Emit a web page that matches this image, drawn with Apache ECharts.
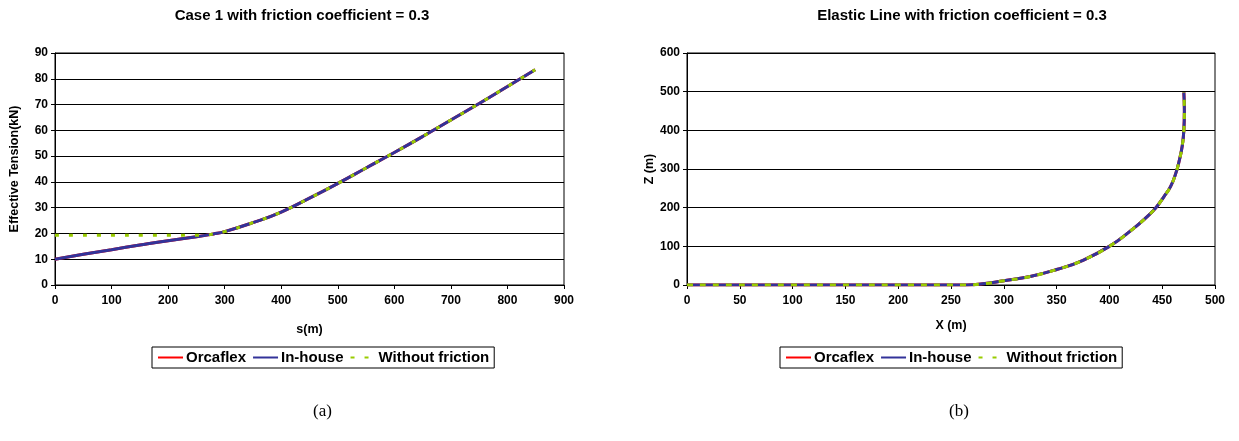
<!DOCTYPE html>
<html>
<head>
<meta charset="utf-8">
<script src="https://cdn.jsdelivr.net/npm/echarts@6/dist/echarts.min.js"></script>
<style>
  html, body { margin: 0; padding: 0; background: #fff; }
  #chart { width: 1239px; height: 441px; }
</style>
</head>
<body>
<div id="chart"></div>
<script>
// (a) tension along the line, s(m) vs kN
var sInHouse = [0, 50, 100, 150, 200, 250, 280, 300, 350, 400, 450, 500, 550, 600, 650, 700, 750, 800, 849];
var tInHouse = [10, 11.9, 13.7, 15.5, 17.2, 18.7, 19.8, 20.7, 24.2, 28.3, 33.7, 39.4, 45.4, 51.4, 57.6, 64.0, 70.4, 77.0, 83.5];
var sNoFric = [0, 265, 280, 300, 350, 400, 450, 500, 550, 600, 650, 700, 750, 800, 849];
var tNoFric = [19.3, 19.3, 19.8, 20.7, 24.2, 28.3, 33.7, 39.4, 45.4, 51.4, 57.6, 64.0, 70.4, 77.0, 83.5];

// (b) elastic line shape, X(m) vs Z(m)
var xLine = [0, 265, 280, 300, 325, 350, 375, 400, 420, 435, 444, 452, 458, 463, 466, 469, 470.5, 471, 470.5];
var zLine = [0, 0, 3, 11, 22, 40, 64, 100, 140, 175, 200, 230, 255, 290, 320, 360, 400, 450, 498];

var names = ["Orcaflex", "In-house", "Without friction"];

function pairs(xs, ys) {
  var out = [];
  for (var i = 0; i < xs.length; i++) out.push([xs[i], ys[i]]);
  return out;
}

var font = "Arial, 'Liberation Sans', sans-serif";
var black = "#000";

function xAx(idx, max, interval, name, gap) {
  return {
    gridIndex: idx, type: 'value', min: 0, max: max, interval: interval,
    name: name, nameLocation: 'middle', nameGap: gap,
    nameTextStyle: { fontFamily: font, fontWeight: 'bold', fontSize: 12.5, color: black },
    axisLine: { show: true, lineStyle: { color: black, width: 1 } },
    axisTick: { show: true, inside: false, length: 4, lineStyle: { color: black } },
    axisLabel: { fontFamily: font, fontWeight: 'bold', fontSize: 12, color: black, margin: 10 },
    splitLine: { show: false }
  };
}

function yAx(idx, max, interval, name, gap) {
  return {
    gridIndex: idx, type: 'value', min: 0, max: max, interval: interval,
    name: name, nameLocation: 'middle', nameGap: gap, nameRotate: 90,
    nameTextStyle: { fontFamily: font, fontWeight: 'bold', fontSize: 12.5, color: black },
    axisLine: { show: true, lineStyle: { color: black, width: 1 } },
    axisTick: { show: true, inside: false, length: 4, lineStyle: { color: black } },
    axisLabel: { fontFamily: font, fontWeight: 'bold', fontSize: 12, color: black, margin: 7 },
    splitLine: { show: true, lineStyle: { color: black, width: 1 } }
  };
}

function legendAt(left) {
  return {
    left: left, top: 347, orient: 'horizontal',
    data: names, itemWidth: 25, itemHeight: 14, itemGap: 6,
    padding: [3, 5], borderColor: black, borderWidth: 1,
    itemStyle: { opacity: 0 },
    textStyle: { fontFamily: font, fontWeight: 'bold', fontSize: 15, color: black, padding: [0, 0, 0, -2] }
  };
}

function lineSeries(name, idx, data, color, width, type) {
  return {
    name: name, type: 'line', xAxisIndex: idx, yAxisIndex: idx,
    data: data, symbol: 'none', smooth: true, smoothMonotone: 'none',
    lineStyle: { color: color, width: width, type: type },
    itemStyle: { color: color },
    z: 2
  };
}

var chart = echarts.init(document.getElementById('chart'));
chart.setOption({
  animation: false,
  backgroundColor: '#fff',
  title: [
    { text: 'Case 1 with friction coefficient = 0.3', left: 297, top: 3, textAlign: 'center',
      textStyle: { fontFamily: font, fontWeight: 'bold', fontSize: 15, color: black } },
    { text: 'Elastic Line with friction coefficient = 0.3', left: 957, top: 3, textAlign: 'center',
      textStyle: { fontFamily: font, fontWeight: 'bold', fontSize: 15, color: black } }
  ],
  grid: [
    { left: 55, right: 675, top: 53, bottom: 156, show: true, borderColor: black, borderWidth: 1, backgroundColor: '#fff' },
    { left: 687, right: 24, top: 53, bottom: 156, show: true, borderColor: black, borderWidth: 1, backgroundColor: '#fff' }
  ],
  xAxis: [
    xAx(0, 900, 100, 's(m)', 38),
    xAx(1, 500, 50, 'X (m)', 34)
  ],
  yAxis: [
    yAx(0, 90, 10, 'Effective Tension(kN)', 34),
    yAx(1, 600, 100, 'Z (m)', 30)
  ],
  legend: [legendAt(152), legendAt(780)],
  graphic: [
    { type: 'text', left: 313, top: 403, style: { text: '(a)', font: "17px 'Times New Roman', 'Liberation Serif', serif", fill: black } },
    { type: 'text', left: 949, top: 403, style: { text: '(b)', font: "17px 'Times New Roman', 'Liberation Serif', serif", fill: black } }
  ],
  series: [
    lineSeries('Orcaflex', 0, pairs(sInHouse, tInHouse), '#ff0000', 3, 'solid'),
    lineSeries('In-house', 0, pairs(sInHouse, tInHouse), '#333399', 3, 'solid'),
    lineSeries('Without friction', 0, pairs(sNoFric, tNoFric), '#99cc00', 3, [4, 10]),
    lineSeries('Orcaflex', 1, pairs(xLine, zLine), '#ff0000', 3, 'solid'),
    lineSeries('In-house', 1, pairs(xLine, zLine), '#333399', 3, 'solid'),
    lineSeries('Without friction', 1, pairs(xLine, zLine), '#99cc00', 3, [6, 7])
  ]
});
</script>
</body>
</html>
